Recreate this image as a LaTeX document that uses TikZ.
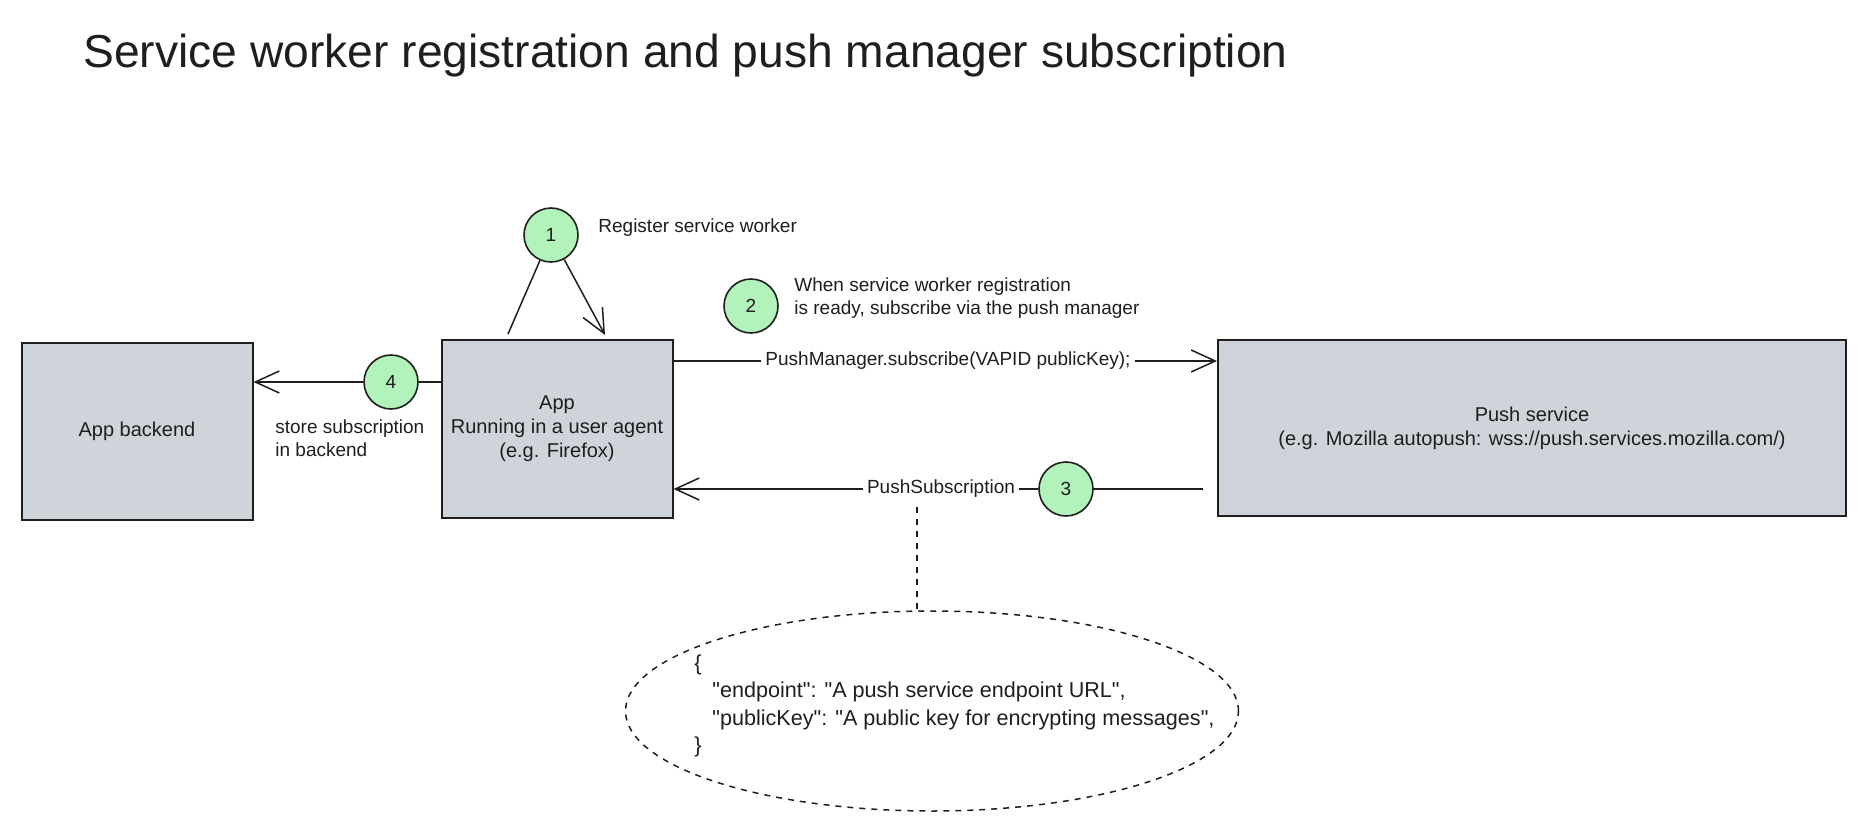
\documentclass[tikz,border=0pt]{standalone}
\usepackage{fontspec}
\setmainfont{Liberation Sans}
\usetikzlibrary{arrows.meta,shapes.geometric}
\definecolor{ink}{HTML}{1E1E1E}
\definecolor{boxgray}{HTML}{CED4DA}
\definecolor{stepgreen}{HTML}{B2F2BB}
\newcommand{\jq}[1]{\textquotedbl#1\textquotedbl}

\begin{document}
\begin{tikzpicture}[x=0.5pt,y=-0.5pt,>={Straight Barb[length=12pt,width=11pt]},
  every node/.style={text=ink},
  box/.style={draw=ink,fill=boxgray,line width=1pt,align=center,inner sep=0pt,font=\fontsize{10}{12}\selectfont},
  num/.style={circle,draw=ink,fill=stepgreen,line width=0.8pt,minimum size=27pt,inner sep=0pt,font=\fontsize{9.5}{11}\selectfont},
  lbl/.style={align=left,inner sep=2pt,font=\fontsize{9.5}{11.5}\selectfont},
  flow/.style={draw=ink,line width=0.75pt}]
\useasboundingbox (0,0) rectangle (1870,835);
\node[anchor=base west,inner sep=0pt,font=\fontsize{23.1}{27}\selectfont] (title) at (83,68) {Service worker registration and push manager subscription};
\node[box,minimum width=115.5pt,minimum height=88.5pt] (backend) at (137,431) {App backend};
\node[box,minimum width=115.5pt,minimum height=89pt] (app) at (557,429) {App\\Running in a user agent\\(e.g. Firefox)};
\node[box,minimum width=314pt,minimum height=88pt] (push) at (1532,428) {Push service\\(e.g. Mozilla autopush: wss://push.services.mozilla.com/)};
\node[num] (c1) at (551,235) {1};
\node[num] (c2) at (751,306) {2};
\node[num] (c3) at (1066,489) {3};
\node[num] (c4) at (391,382) {4};
\node[lbl,anchor=west] (l1) at (594,228) {Register service worker};
\node[lbl,anchor=west] (l2) at (790,298) {When service worker registration\\is ready, subscribe via the push manager};
\node[lbl,anchor=west] (l4) at (271,438) {store subscription\\in backend};
\node[lbl] (sublbl) at (948,361) {PushManager.subscribe(VAPID publicKey);};
\node[lbl] (subslbl) at (941,489) {PushSubscription};
\coordinate (loopout) at (508,334);
\coordinate (loopin) at (605,335);
\draw[flow] (loopout) -- (c1);
\draw[flow,->] (c1) -- (loopin);
\draw[flow] (app.east |- sublbl) -- (sublbl);
\draw[flow,->] (sublbl) -- (push.west |- sublbl);
\draw[flow,shorten <=7pt] (push.west |- c3) -- (c3);
\draw[flow] (c3) -- (subslbl);
\draw[flow,->] (subslbl) -- (app.east |- subslbl);
\draw[flow] (app.west |- c4) -- (c4);
\draw[flow,->] (c4) -- (backend.east |- c4);
\node[ellipse,draw=ink,dashed,line width=0.75pt,minimum width=306.5pt,minimum height=100pt] (json) at (932,711) {};
\node[anchor=west,align=left,inner sep=0pt,font=\fontsize{10.8}{13.6}\selectfont] (jsontxt) at (694,706) {\{\\\hspace*{9pt}\jq{endpoint}: \jq{A push service endpoint URL},\\\hspace*{9pt}\jq{publicKey}: \jq{A public key for encrypting messages},\\\}};
\coordinate (tap) at (917,507);
\draw[flow,dashed] (tap) -- (json.north -| tap);
\end{tikzpicture}
\end{document}
